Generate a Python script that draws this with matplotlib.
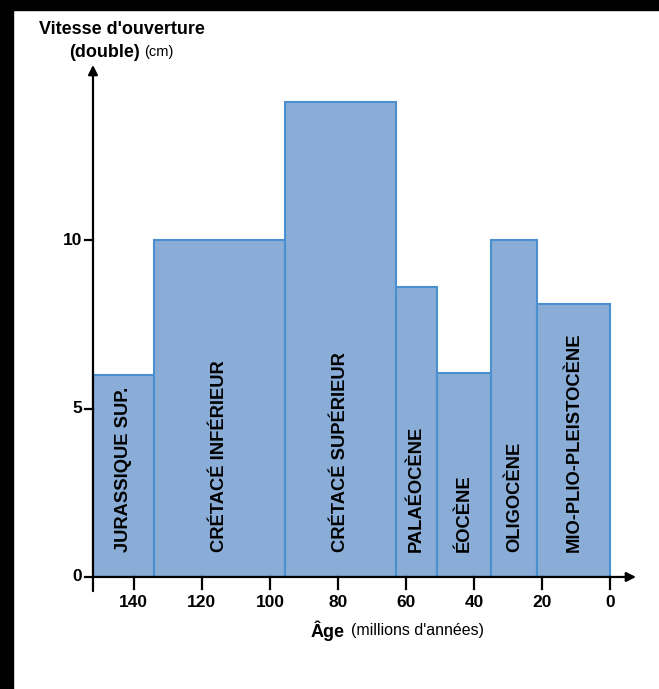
import matplotlib.pyplot as plt
from matplotlib.patches import Rectangle

plt.rcParams['font.family'] = ['Liberation Sans', 'DejaVu Sans']

# Données : limites des périodes (Ma) et vitesse d'ouverture (cm)
periodes = ["JURASSIQUE SUP.", "CRÉTACÉ INFÉRIEUR", "CRÉTACÉ SUPÉRIEUR",
            "PALAÉOCÈNE", "ÉOCÈNE", "OLIGOCÈNE", "MIO-PLIO-PLEISTOCÈNE"]
debut = [152, 134, 95.5, 63, 51, 35, 21.5]
fin = [134, 95.5, 63, 51, 35, 21.5, 0]
vitesse = [6, 10, 14.1, 8.6, 6.05, 10, 8.1]

x_ticks = [140, 120, 100, 80, 60, 40, 20, 0]
y_ticks = [0, 5, 10]

fig = plt.figure(figsize=(6.59, 6.89), dpi=100)
ax = fig.add_axes([0.1411, 0.1626, 0.824, 0.7431])
ax.set_xlim(152, -7.5)
ax.set_ylim(0, 15.2)
ax.axis('off')

fill = '#8aadd8'
edge = '#4a90d0'
for nom, d, f, v in zip(periodes, debut, fin, vitesse):
    ax.bar(d, v, width=f - d, align='edge', color=fill, edgecolor=edge,
           linewidth=1.5, zorder=2)
    ax.text((d + f) / 2, 0.75, nom, rotation=90, ha='center', va='bottom',
            fontsize=13.2, fontweight='bold', zorder=3)

# axes avec flèches
ax.annotate('', xy=(-7.5, 0), xytext=(152, 0),
            arrowprops=dict(arrowstyle='-|>', color='black', lw=1.6,
                            mutation_scale=14, shrinkA=0, shrinkB=0),
            annotation_clip=False, zorder=4)
ax.annotate('', xy=(152, 15.2), xytext=(152, -0.42),
            arrowprops=dict(arrowstyle='-|>', color='black', lw=1.6,
                            mutation_scale=14, shrinkA=0, shrinkB=0),
            annotation_clip=False, zorder=4)

for t in x_ticks:
    ax.plot([t, t], [0, -0.36], color='black', lw=1.6, clip_on=False, zorder=4)
    ax.text(t, -0.55, str(t), ha='center', va='top', fontsize=12.5,
            fontweight='bold')
for t in y_ticks:
    ax.plot([152, 154.3], [t, t], color='black', lw=1.6, clip_on=False, zorder=4)
    ax.text(155.2, t, str(t), ha='right', va='center', fontsize=12.5,
            fontweight='bold')

# titres des axes
fig.text(0.185, 0.9565, "Vitesse d'ouverture", ha='center', va='center',
         fontsize=13, fontweight='bold')
fig.text(0.2125, 0.9245, "(double)", ha='right', va='center',
         fontsize=13, fontweight='bold')
fig.text(0.219, 0.9245, "(cm)", ha='left', va='center', fontsize=10.5)
fig.text(0.5235, 0.0842, "Âge", ha='right', va='center', fontsize=13,
         fontweight='bold')
fig.text(0.5326, 0.0842, "(millions d'années)", ha='left', va='center',
         fontsize=11.5)

# bordures noires
fig.patches.append(Rectangle((0, 0), 13 / 659, 1, transform=fig.transFigure,
                             color='black', zorder=10))
fig.patches.append(Rectangle((0, 1 - 10 / 689), 1, 10 / 689,
                             transform=fig.transFigure, color='black', zorder=10))

fig.savefig('out.png', dpi=100)
